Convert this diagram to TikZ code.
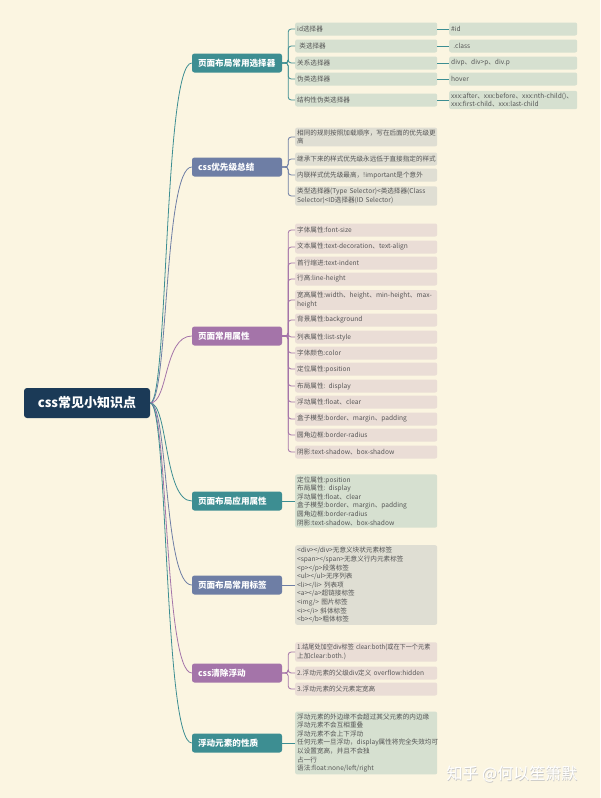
\documentclass[tikz,border=0pt]{standalone}
\usepackage{fontspec}
\setmainfont{Noto Sans CJK SC}
\usepackage{graphicx}
\usepackage{tikz}
\usetikzlibrary{positioning}

\definecolor{bgcream}{HTML}{FBF5E1}
\definecolor{rootblue}{HTML}{1B3A57}
\definecolor{teal1}{HTML}{3D8E92}
\definecolor{slate1}{HTML}{6E7EA5}
\definecolor{purple1}{HTML}{A474A9}
\definecolor{leafgreen}{HTML}{D6E0D0}
\definecolor{leafgray}{HTML}{DFDED3}
\definecolor{leafpink}{HTML}{EADDD6}
\definecolor{leaftext}{HTML}{555555}

\tikzstyle{root} = [fill=rootblue, text=white, rounded corners=3pt, font=\fontsize{13}{15}\selectfont\bfseries, minimum width=126pt, minimum height=30pt]
\tikzstyle{branch} = [rounded corners=2.5pt, text=white, font=\fontsize{8.6}{10}\selectfont\bfseries, text width=78pt, inner xsep=6pt, align=left, minimum height=19pt]
\tikzstyle{leaf} = [rounded corners=2pt, text=leaftext, font=\fontsize{6.6}{8.6}\selectfont, text width=138pt, inner xsep=2pt, inner ysep=2pt, minimum height=13pt, align=left, anchor=west]
\tikzstyle{subleaf} = [leaf, fill=leafgreen, text width=124pt]
\tikzstyle{link} = [line width=0.8pt]

\begin{document}
\begin{tikzpicture}[x=1pt, y=-1pt]
  \fill[bgcream] (0,0) rectangle (600,798);
  \useasboundingbox (0,0) rectangle (600,798);

  % root and main branches
  \node[root] (root) at (87,403) {css常见小知识点};
  \node[branch, fill=teal1] (sel) at (237,63) {页面布局常用选择器};
  \node[branch, fill=slate1] (prio) at (237,167) {css优先级总结};
  \node[branch, fill=purple1] (attr) at (237,336) {页面常用属性};
  \node[branch, fill=teal1] (lay) at (237,501) {页面布局应用属性};
  \node[branch, fill=slate1] (tags) at (237,585) {页面布局常用标签};
  \node[branch, fill=purple1] (clr) at (237,673) {css清除浮动};
  \node[branch, fill=teal1] (flt) at (237,743) {浮动元素的性质};

  % selectors
  \node[leaf, fill=leafgreen] (sel1) at (295,29) {id选择器};
  \node[leaf, fill=leafgreen] (sel2) at (295,46) {\ 类选择器};
  \node[leaf, fill=leafgreen] (sel3) at (295,63) {关系选择器};
  \node[leaf, fill=leafgreen] (sel4) at (295,79) {伪类选择器};
  \node[leaf, fill=leafgreen] (sel5) at (295,100) {结构性伪类选择器};
  \node[subleaf] (selx1) at (449,29) {\#id};
  \node[subleaf] (selx2) at (449,46) {\ .class};
  \node[subleaf] (selx3) at (449,63) {divp、div>p、div.p};
  \node[subleaf] (selx4) at (449,79) {hover};
  \node[subleaf] (selx5) at (449,100) {xxx:after、xxx:before、xxx:nth-child()、\\xxx:first-child、xxx:last-child};

  % priority
  \node[leaf, fill=leafgray] (prio1) at (295,137) {相同的规则按照加载顺序，写在后面的优先级更\\高};
  \node[leaf, fill=leafgray] (prio2) at (295,159) {继承下来的样式优先级永远低于直接指定的样式};
  \node[leaf, fill=leafgray] (prio3) at (295,175) {内联样式优先级最高，!important是个意外};
  \node[leaf, fill=leafgray] (prio4) at (295,196) {类型选择器(Type Selector)<类选择器(Class\\Selector)<ID选择器(ID Selector)};

  % attributes
  \node[leaf, fill=leafpink] (attr1) at (295,230) {字体属性:font-size};
  \node[leaf, fill=leafpink] (attr2) at (295,247) {文本属性:text-decoration、text-align};
  \node[leaf, fill=leafpink] (attr3) at (295,263) {首行缩进:text-indent};
  \node[leaf, fill=leafpink] (attr4) at (295,279) {行高:line-height};
  \node[leaf, fill=leafpink] (attr5) at (295,300) {宽高属性:width、height、min-height、max-\\height};
  \node[leaf, fill=leafpink] (attr6) at (295,320) {背景属性:background};
  \node[leaf, fill=leafpink] (attr7) at (295,337) {列表属性:list-style};
  \node[leaf, fill=leafpink] (attr8) at (295,353) {字体颜色:color};
  \node[leaf, fill=leafpink] (attr9) at (295,369) {定位属性:position};
  \node[leaf, fill=leafpink] (attr10) at (295,386) {布局属性: display};
  \node[leaf, fill=leafpink] (attr11) at (295,402) {浮动属性:float、clear};
  \node[leaf, fill=leafpink] (attr12) at (295,419) {盒子模型:border、margin、padding};
  \node[leaf, fill=leafpink] (attr13) at (295,435) {圆角边框:border-radius};
  \node[leaf, fill=leafpink] (attr14) at (295,452) {阴影:text-shadow、box-shadow};

  % layout, tags
  \node[leaf, fill=leafgreen] (lay1) at (295,501) {定位属性:position\\布局属性: display\\浮动属性:float、clear\\盒子模型:border、margin、padding\\圆角边框:border-radius\\阴影:text-shadow、box-shadow};
  \node[leaf, fill=leafgray] (tags1) at (295,585) {<div></div>无意义块状元素标签\\<span></span>无意义行内元素标签\\<p></p>段落标签\\<ul></ul>无序列表\\<li></li> 列表项\\<a></a>超链接标签\\<img/> 图片标签\\<i></i> 斜体标签\\<b></b>粗体标签};

  % clearing floats
  \node[leaf, fill=leafpink] (clr1) at (295,652) {\scalebox{0.93}[1]{1.结尾处加空div标签 clear:both(或在下一个元素}\\上加clear:both.)};
  \node[leaf, fill=leafpink] (clr2) at (295,673) {2.浮动元素的父级div定义 overflow:hidden};
  \node[leaf, fill=leafpink] (clr3) at (295,689) {3.浮动元素的父元素定宽高};

  % float
  \node[leaf, fill=leafgreen] (flt1) at (295,743) {浮动元素的外边缘不会超过其父元素的内边缘\\浮动元素不会互相重叠\\浮动元素不会上下浮动\\任何元素一旦浮动，display属性将完全失效均可\\以设置宽高，并且不会独\\占一行\\语法:float:none/left/right};

  % connectors
  \foreach \b/\col in {sel/teal1, prio/slate1, attr/purple1, lay/teal1, tags/slate1, clr/purple1, flt/teal1}
    \draw[link, \col] (root.east) .. controls +(18,0) and +(-28,0) .. (\b.west);
  \foreach \c in {sel1,sel2,sel3,sel4,sel5}
    \draw[link, teal1, rounded corners=3pt] (sel.east) -- ++(6,0) |- (\c.west);
  \foreach \c in {1,...,5}
    \draw[link, teal1] (sel\c.east) -- (selx\c.west);
  \foreach \c in {prio1,prio2,prio3,prio4}
    \draw[link, slate1, rounded corners=3pt] (prio.east) -- ++(6,0) |- (\c.west);
  \foreach \c in {1,...,14}
    \draw[link, purple1, rounded corners=3pt] (attr.east) -- ++(6,0) |- (attr\c.west);
  \draw[link, teal1] (lay.east) -- (lay1.west);
  \draw[link, slate1] (tags.east) -- (tags1.west);
  \foreach \c in {clr1,clr2,clr3}
    \draw[link, purple1, rounded corners=3pt] (clr.east) -- ++(6,0) |- (\c.west);
  \draw[link, teal1] (flt.east) -- (flt1.west);

  % watermark
  \node[text=gray!45, font=\fontsize{16}{18}\selectfont] (markshadow) at (512.6,774.6) {知乎 @何以笙箫默};
  \node[text=white, font=\fontsize{16}{18}\selectfont] (mark) at (512,774) {知乎 @何以笙箫默};
\end{tikzpicture}
\end{document}
